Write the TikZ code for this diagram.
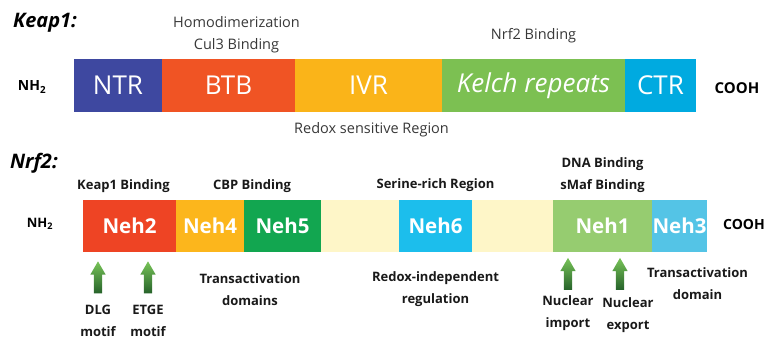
\documentclass[tikz,border=0pt]{standalone}
\usepackage{fontspec}
\setmainfont{Open Sans}
\usetikzlibrary{positioning,shapes.arrows}
\definecolor{ntrblue}{RGB}{62,72,160}
\definecolor{btbred}{RGB}{240,84,36}
\definecolor{ivryellow}{RGB}{250,180,25}
\definecolor{kelchgreen}{RGB}{124,192,82}
\definecolor{ctrblue}{RGB}{0,170,224}
\definecolor{nehred}{RGB}{238,68,36}
\definecolor{nehyellow}{RGB}{252,182,28}
\definecolor{nehgreen}{RGB}{18,166,80}
\definecolor{nehpale}{RGB}{254,246,200}
\definecolor{nehblue}{RGB}{28,190,236}
\definecolor{nehlight}{RGB}{150,204,112}
\definecolor{nehsky}{RGB}{84,196,230}
\definecolor{arrowlight}{RGB}{120,196,88}
\definecolor{arrowdark}{RGB}{38,98,42}

\begin{document}
\begin{tikzpicture}[x=1pt,y=1pt,node distance=6pt,
    every node/.style={align=center,inner sep=0pt,outer sep=0pt},
    kpbox/.style={minimum height=53pt,text=white,font=\fontsize{26}{26}\selectfont},
    nfbox/.style={minimum height=52pt,text=white,font=\fontsize{20.5}{20}\selectfont\bfseries},
    kplabel/.style={text=black!78,font=\fontsize{14.5}{22}\selectfont},
    nflabel/.style={text=black!90,font=\fontsize{13}{22}\selectfont\bfseries},
    endlabel/.style={font=\fontsize{14}{14}\selectfont\bfseries},
    title/.style={anchor=west,font=\fontsize{20}{20}\selectfont\bfseries\itshape},
    motifarrow/.style={single arrow,shape border rotate=90,minimum height=32pt,minimum width=15pt,
      inner sep=4pt,single arrow head extend=3.5pt,single arrow tip angle=60,
      top color=arrowlight,bottom color=arrowdark}]
  \useasboundingbox (0,0) rectangle (766,344);

  % Keap1
  \node[title] (keaptitle) at (13,321) {Keap1:};
  \node[kpbox,fill=ntrblue,minimum width=88pt,anchor=west] (ntr) at (74,258.5) {NTR};
  \node[kpbox,fill=btbred,minimum width=133pt,right=0pt of ntr] (btb) {BTB};
  \node[kpbox,fill=ivryellow,minimum width=147pt,right=0pt of btb] (ivr) {IVR};
  \node[kpbox,fill=kelchgreen,minimum width=183pt,right=0pt of ivr] (kelch) {\itshape Kelch repeats};
  \node[kpbox,fill=ctrblue,minimum width=71pt,right=0pt of kelch] (ctr) {CTR};
  \node[endlabel] (keapnh) at (32,257) {NH\textsubscript{2}};
  \node[endlabel,font=\fontsize{15}{15}\selectfont\bfseries] (keapcooh) at (737,256) {COOH};
  \node[kplabel,above=6pt of btb,xshift=8pt] (homodim) {Homodimerization\\Cul3 Binding};
  \node[kplabel,above=16pt of kelch] (nrfbind) {Nrf2 Binding};
  \node[kplabel,below=10pt of ivr,xshift=3pt] (redoxsens) {Redox sensitive Region};

  % Nrf2
  \node[title] (nrftitle) at (10,181) {Nrf2:};
  \node[nfbox,fill=nehred,minimum width=93pt,anchor=west] (neh2) at (83,118) {Neh2};
  \node[nfbox,fill=nehyellow,minimum width=68pt,right=0pt of neh2] (neh4) {Neh4};
  \node[nfbox,fill=nehgreen,minimum width=77pt,right=0pt of neh4] (neh5) {Neh5};
  \node[nfbox,fill=nehpale,minimum width=78pt,right=0pt of neh5] (palea) {};
  \node[nfbox,fill=nehblue,minimum width=73pt,right=0pt of palea] (neh6) {Neh6};
  \node[nfbox,fill=nehpale,minimum width=81pt,right=0pt of neh6] (paleb) {};
  \node[nfbox,fill=nehlight,minimum width=99pt,right=0pt of paleb] (neh1) {Neh1};
  \node[nfbox,fill=nehsky,minimum width=55pt,right=0pt of neh1] (neh3) {Neh3};
  \node[endlabel,font=\fontsize{13}{13}\selectfont\bfseries] (nrfnh) at (40,120) {NH\textsubscript{2}};
  \node[endlabel] (nrfcooh) at (744,120) {COOH};
  \node[nflabel,above=7pt of neh2,xshift=-6pt] (keapbind) {Keap1 Binding};
  \node[nflabel,above=7pt of neh4.north east,xshift=8pt] (cbpbind) {CBP Binding};
  \node[nflabel,above=8pt of neh6] (serine) {Serine-rich Region};
  \node[nflabel,above=7pt of neh1] (dnabind) {DNA Binding\\sMaf Binding};
  \node[nflabel,below=22pt of neh4.south east,xshift=6pt] (transdoms) {Transactivation\\domains};
  \node[nflabel,below=20pt of neh6] (redoxind) {Redox-independent\\regulation};
  \node[nflabel,below=16pt of neh3,xshift=18pt] (transdom) {Transactivation\\domain};

  % motif arrows
  \node[motifarrow] (dlgarr) at (98,63) {};
  \node[motifarrow] (etgearr) at (148,63) {};
  \node[motifarrow] (imparr) at (568,66.5) {};
  \node[motifarrow] (exparr) at (620,66.5) {};
  \node[nflabel,below=12pt of dlgarr] (dlg) {DLG\\motif};
  \node[nflabel,below=12pt of etgearr] (etge) {ETGE\\motif};
  \node[nflabel,below=6pt of imparr] (import) {Nuclear\\import};
  \node[nflabel,below=8pt of exparr,xshift=8pt] (export) {Nuclear\\export};
\end{tikzpicture}
\end{document}
